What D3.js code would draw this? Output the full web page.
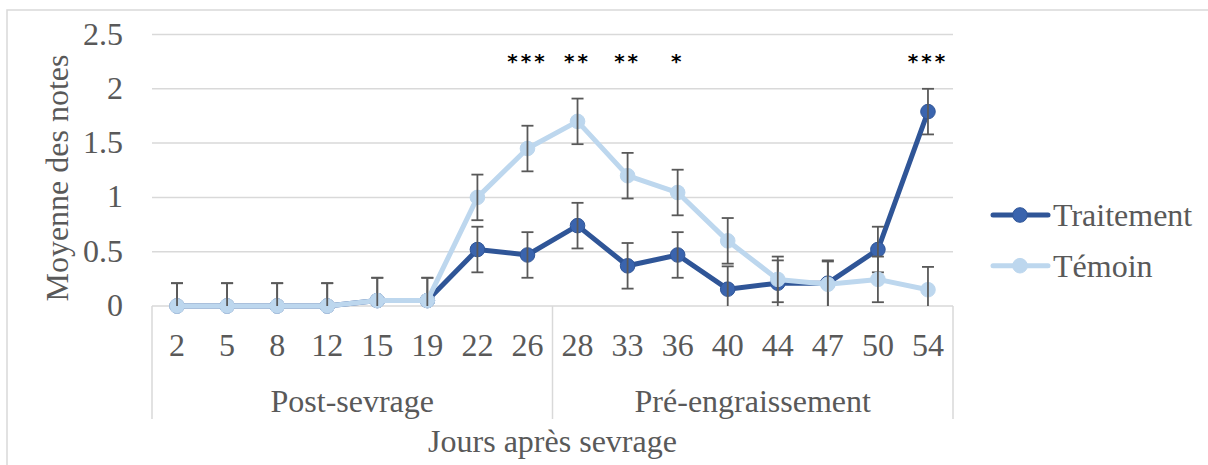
<!DOCTYPE html>
<html><head><meta charset="utf-8">
<script src="https://cdn.jsdelivr.net/npm/d3@7"></script>
<style>body{margin:0;background:#fff}svg{display:block}</style>
</head><body>
<script>
const days = ["2","5","8","12","15","19","22","26","28","33","36","40","44","47","50","54"];
const phases = [{name:"Post-sevrage", from:0, to:7},{name:"Pré-engraissement", from:8, to:15}];
const traitement = [0,0,0,0,0.05,0.05,0.52,0.47,0.74,0.37,0.47,0.155,0.21,0.21,0.52,1.79];
const temoin =     [0,0,0,0,0.05,0.05,1.0,1.45,1.70,1.20,1.045,0.60,0.245,0.20,0.245,0.15];
const errTraitement = [0.21,0.21,0.21,0.21,0.21,0.21,0.21,0.21,0.21,0.21,0.21,0.21,0.21,0.21,0.21,0.21];
const errTemoin =     [0.21,0.21,0.21,0.21,0.21,0.21,0.21,0.21,0.21,0.21,0.21,0.21,0.21,0.21,0.21,0.21];
const signif = ["","","","","","","","***","**","**","*","","","","","***"];
const yTicks = [0,0.5,1,1.5,2,2.5];

const W=1208,H=465;
const svg=d3.select("body").append("svg").attr("width",W).attr("height",H);
const serif="Liberation Serif, Times New Roman, serif";
const grey="#595959", gridC="#D9D9D9", FS=32;

svg.append("rect").attr("x",7).attr("y",10).attr("width",1215).attr("height",480)
  .attr("fill","none").attr("stroke",gridC).attr("stroke-width",1.5);

const x=d3.scaleBand().domain(days).range([152,953]);
const y=d3.scaleLinear().domain([0,2.5]).range([306,34.5]);
const cx=d=>x(d)+x.bandwidth()/2;

// gridlines
svg.append("g").selectAll("line").data(yTicks).join("line")
  .attr("x1",152).attr("x2",953).attr("y1",d=>y(d)).attr("y2",d=>y(d))
  .attr("stroke",gridC).attr("stroke-width",1.5);
// y tick labels
svg.append("g").selectAll("text").data(yTicks).join("text")
  .attr("x",123).attr("y",d=>y(d)+10).attr("text-anchor","end")
  .attr("font-family",serif).attr("font-size",FS).attr("fill",grey).text(d=>d);
// x axis box lines
const boundaries=[0,8,16];
svg.append("g").selectAll("line").data(boundaries).join("line")
  .attr("x1",d=>d<16?x(days[d]):x(days[15])+x.bandwidth())
  .attr("x2",d=>d<16?x(days[d]):x(days[15])+x.bandwidth())
  .attr("y1",306).attr("y2",419).attr("stroke",gridC).attr("stroke-width",1.5);
// x tick labels
svg.append("g").selectAll("text").data(days).join("text")
  .attr("x",d=>cx(d)).attr("y",356).attr("text-anchor","middle")
  .attr("font-family",serif).attr("font-size",FS).attr("fill",grey).text(d=>d);
// phase labels
svg.append("g").selectAll("text").data(phases).join("text")
  .attr("x",d=>(x(days[d.from])+x(days[d.to])+x.bandwidth())/2).attr("y",412)
  .attr("text-anchor","middle").attr("font-family",serif).attr("font-size",FS).attr("fill",grey).text(d=>d.name);
// axis titles
svg.append("text").attr("x",552.5).attr("y",452).attr("text-anchor","middle")
  .attr("font-family",serif).attr("font-size",FS).attr("fill",grey).text("Jours après sevrage");
svg.append("text").attr("transform","translate(68,178) rotate(-90)").attr("text-anchor","middle")
  .attr("font-family",serif).attr("font-size",FS).attr("fill",grey).text("Moyenne des notes");

const series=[
  {name:"Traitement",vals:traitement,err:errTraitement,line:"#2F5597",fill:"#3A64AE"},
  {name:"Témoin",vals:temoin,err:errTemoin,line:"#BDD7EE",fill:"#BDD7EE"}
];
const lineGen=d3.line().x((d,i)=>cx(days[i])).y(d=>y(d));
series.forEach(s=>{
  const g=svg.append("g");
  g.append("path").datum(s.vals).attr("d",lineGen).attr("fill","none")
    .attr("stroke",s.line).attr("stroke-width",5).attr("stroke-linejoin","round");
  g.selectAll("circle").data(s.vals).join("circle")
    .attr("cx",(d,i)=>cx(days[i])).attr("cy",d=>y(d)).attr("r",7.3)
    .attr("fill",s.fill).attr("stroke",s.line).attr("stroke-width",1);
  const eb=g.append("g").attr("stroke",grey).attr("stroke-width",1.8);
  s.vals.forEach((v,i)=>{
    const X=cx(days[i]), top=y(v+s.err[i]), bot=y(Math.max(0,v-s.err[i]));
    eb.append("line").attr("x1",X).attr("x2",X).attr("y1",top).attr("y2",bot);
    eb.append("line").attr("x1",X-6).attr("x2",X+6).attr("y1",top).attr("y2",top);
    if(v-s.err[i]>0) eb.append("line").attr("x1",X-6).attr("x2",X+6).attr("y1",bot).attr("y2",bot);
  });
});
// significance
svg.append("g").selectAll("text").data(signif).join("text")
  .attr("x",(d,i)=>cx(days[i])).attr("y",68).attr("text-anchor","middle")
  .attr("font-family","DejaVu Sans, sans-serif").attr("font-weight","bold").attr("font-size",20)
  .attr("letter-spacing",3).attr("fill","#000").text(d=>d);
// legend
const leg=svg.append("g");
series.forEach((s,i)=>{
  const ly=215+i*50.7;
  leg.append("line").attr("x1",993).attr("x2",1048).attr("y1",ly).attr("y2",ly)
    .attr("stroke",s.line).attr("stroke-width",5).attr("stroke-linecap","round");
  leg.append("circle").attr("cx",1020).attr("cy",ly).attr("r",7.3).attr("fill",s.fill).attr("stroke",s.line);
  leg.append("text").attr("x",1053).attr("y",ly+11).attr("font-family",serif).attr("font-size",FS)
    .attr("fill",grey).text(s.name);
});
</script>
</body></html>
